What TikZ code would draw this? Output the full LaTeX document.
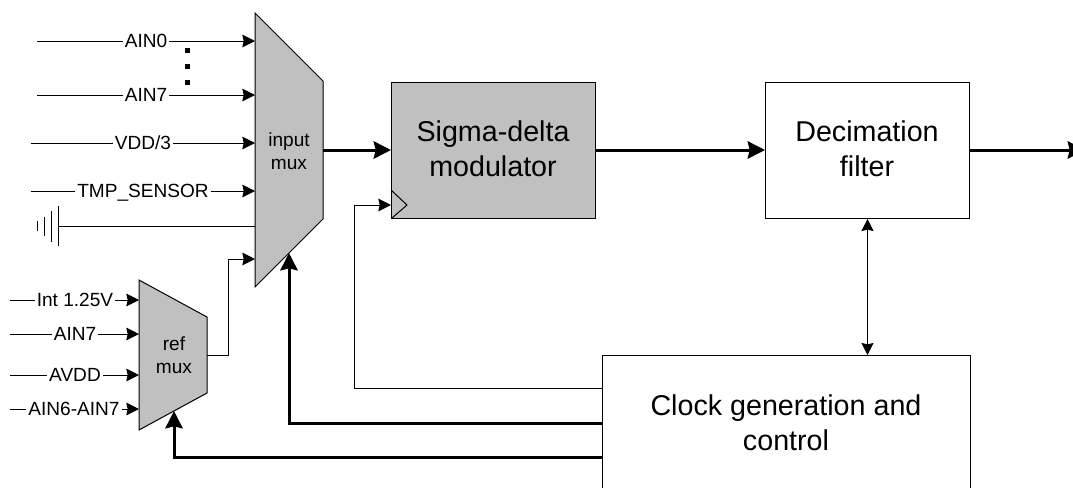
\documentclass[tikz,border=0pt]{standalone}
\usepackage{fontspec}
\setmainfont{Liberation Sans}
\usetikzlibrary{arrows.meta}
\definecolor{muxgrey}{HTML}{C0C0C0}
\tikzset{
  x=0.75pt,y=-0.75pt,
  wire/.style={line width=0.75pt,black},
  tip/.style={wire,-{Stealth[length=9.5pt,width=9.5pt,inset=1pt]}},
  bitip/.style={wire,{Stealth[length=9pt,width=9pt,inset=1pt]}-{Stealth[length=9pt,width=9pt,inset=1pt]}},
  bus/.style={line width=2.25pt,black,-{Stealth[length=13pt,width=13pt,inset=1.5pt]}},
  plate/.style={draw=black,line width=0.75pt,fill=muxgrey,line join=miter},
  block/.style={draw=black,line width=0.75pt,rectangle,anchor=north west,inner sep=0pt,align=center},
  sig/.style={font=\fontsize{14.3pt}{16pt}\selectfont,fill=white,inner xsep=1.5pt,inner ysep=1pt,text height=10.2pt,text depth=0pt},
  muxlabel/.style={font=\fontsize{14.3pt}{17.6pt}\selectfont,align=center,inner sep=0pt},
  biglabel/.style={font=\fontsize{21.5pt}{26.2pt}\selectfont,align=center,inner sep=0pt}
}
\begin{document}
\begin{tikzpicture}
\useasboundingbox (0,0) rectangle (1073,487);
\clip (0,0) rectangle (1073,487);

% multiplexers
\draw[plate] (255,13) -- (323,81) -- (323,219) -- (255,287) -- cycle;
\draw[plate] (139,280) -- (207,317) -- (207,393) -- (139,430) -- cycle;
\node[muxlabel] (inmux) at (289,151) {input\\mux};
\node[muxlabel] (refmux) at (174,355) {ref\\mux};

% blocks
\node[block,fill=muxgrey,minimum width=204*0.75pt,minimum height=136*0.75pt] (sd) at (391,82) {};
\node[biglabel] (sdt) at (493,149) {Sigma-delta\\modulator};
\node[block,minimum width=204*0.75pt,minimum height=136*0.75pt] (dec) at (765,82) {};
\node[biglabel] (dect) at (867,149) {Decimation\\filter};
\node[block,minimum width=368*0.75pt,minimum height=150*0.75pt] (clk) at (602,355) {};
\node[biglabel] (clkt) at (786,423) {Clock generation and\\control};

% clock-input marker
\draw[wire] (391,190) -- (407,205) -- (392,218);

% input mux ports
\coordinate (m0) at (255,41);
\coordinate (m7) at (255,95);
\coordinate (mv) at (255,143);
\coordinate (mt) at (255,191);
\coordinate (mg) at (255,226);
\coordinate (mr) at (255,259);
\coordinate (mctl) at (289,253);
\coordinate (mout) at (323,150);

% input mux signals
\coordinate (s0) at (37,41);
\coordinate (s7) at (37,95);
\coordinate (sv) at (31,143);
\coordinate (st) at (31,191);
\node[sig] (l0) at (146,41) {AIN0};
\node[sig] (l7) at (146,95) {AIN7};
\node[sig] (lv) at (143,143) {VDD/3};
\node[sig] (lt) at (143,191) {TMP\_SENSOR};
\draw[wire] (s0) -- (l0); \draw[tip] (l0) -- (m0);
\draw[wire] (s7) -- (l7); \draw[tip] (l7) -- (m7);
\draw[wire] (sv) -- (lv); \draw[tip] (lv) -- (mv);
\draw[wire] (st) -- (lt); \draw[tip] (lt) -- (mt);

% dots
\fill (185,48) rectangle (190,53);
\fill (185,64) rectangle (190,69);
\fill (185,80) rectangle (190,85);

% ground
\coordinate (gnd) at (58,226);
\draw[wire] (gnd) -- (mg);
\draw[wire] (58,206) -- (58,246);
\draw[wire] (51,211) -- (51,242);
\draw[wire] (44,217) -- (44,236);
\draw[wire] (37,221) -- (37,231);

% ref mux signals
\coordinate (r1) at (139,300);
\coordinate (r2) at (139,334);
\coordinate (r3) at (139,375);
\coordinate (r4) at (139,409);
\coordinate (rctl) at (174,411);
\coordinate (rout) at (207,355);
\coordinate (q1) at (10,300);
\coordinate (q2) at (10,334);
\coordinate (q3) at (10,375);
\coordinate (q4) at (10,409);
\node[sig] (n1) at (75,300) {Int 1.25V};
\node[sig] (n2) at (75,334) {AIN7};
\node[sig] (n3) at (75,375) {AVDD};
\node[sig] (n4) at (74,409) {AIN6-AIN7};
\draw[wire] (q1) -- (n1); \draw[tip] (n1) -- (r1);
\draw[wire] (q2) -- (n2); \draw[tip] (n2) -- (r2);
\draw[wire] (q3) -- (n3); \draw[tip] (n3) -- (r3);
\draw[wire] (q4) -- (n4); \draw[tip] (n4) -- (r4);

% ref mux to input mux
\draw[tip] (rout) -- (228,355) -- (228,259) -- (mr);

% main signal path
\draw[bus] (mout) -- (sd.west |- mout);
\draw[bus] (sd.east |- mout) -- (dec.west |- mout);
\draw[bus] (dec.east |- mout) -- (1085,150);

% control
\draw[tip] (clk.west |- 0,388) -- (354,388) -- (354,205) -- (391,205);
\draw[bus] (clk.west |- 0,423) -- (289,423) -- (mctl);
\draw[bus] (clk.west |- 0,457) -- (174,457) -- (rctl);
\draw[bitip] (dec.south) -- (dec.south |- clk.north);
\end{tikzpicture}
\end{document}
